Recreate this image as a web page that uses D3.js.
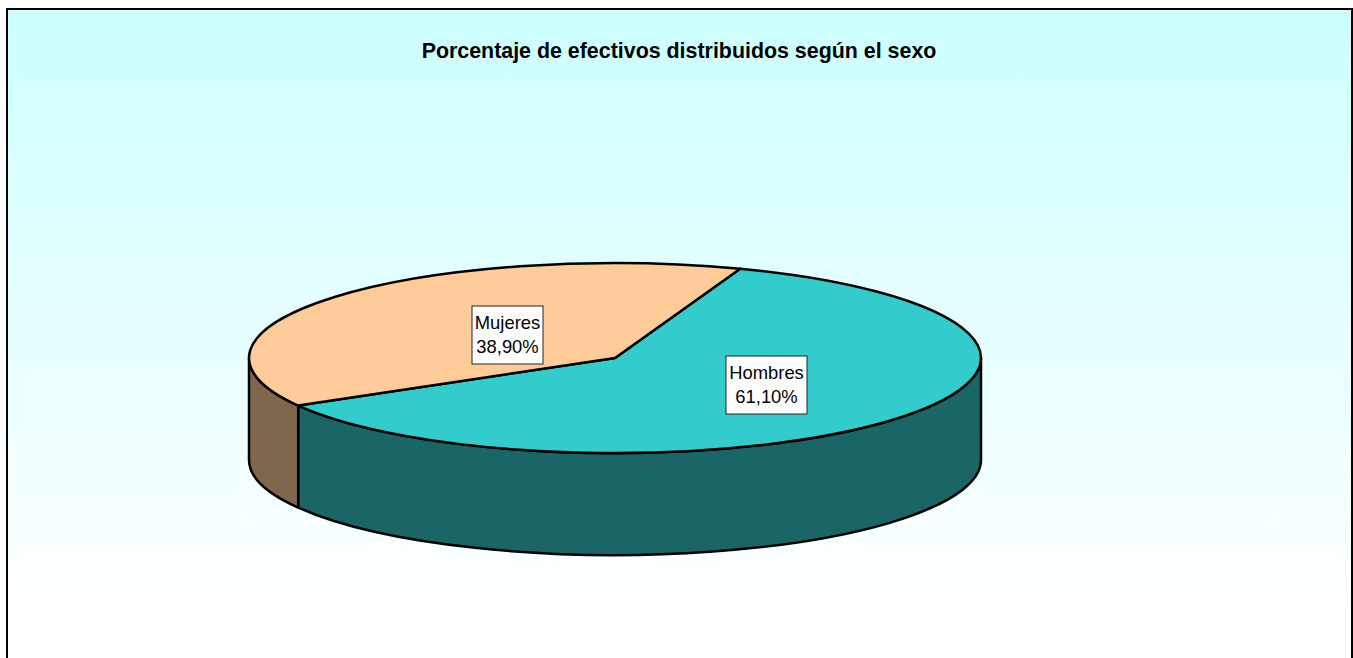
<!DOCTYPE html>
<html>
<head>
<meta charset="utf-8">
<style>
  html, body { margin: 0; padding: 0; background: #fff; overflow: hidden; }
  svg { display: block; }
  text { font-family: "Liberation Sans", Arial, sans-serif; fill: #000; }
</style>
<script src="https://cdn.jsdelivr.net/npm/d3@7"></script>
</head>
<body>
<svg id="chart" width="1353" height="658"></svg>
<script>
"use strict"
var titulo = "Porcentaje de efectivos distribuidos según el sexo";
var categorias = ["Hombres", "Mujeres"];
var valores = [61.1, 38.9];
var etiquetas = ["61,10%", "38,90%"];
var coloresTapa = ["#33cccc", "#ffcc99"];
var coloresLado = ["#1a6666", "#80664d"];

var svg = d3.select("svg#chart"),
    width = +svg.attr("width"),
    height = +svg.attr("height");

var cx = 615, cy = 358, rx = 366, ry = 95, depth = 102;
var giro = 20 * Math.PI / 180;
var lineaPie = 2.5;

var defs = svg.append("defs");
var grad = defs.append("linearGradient")
    .attr("id", "fondo")
    .attr("x1", 0).attr("y1", 0).attr("x2", 0).attr("y2", 1);
grad.append("stop").attr("offset", "0%").attr("stop-color", "#ccffff");
grad.append("stop").attr("offset", "93%").attr("stop-color", "#ffffff");

// marco, la parte de abajo queda fuera de la captura
svg.append("rect")
    .attr("x", 7).attr("y", 9)
    .attr("width", 1345).attr("height", 660)
    .attr("fill", "url(#fondo)")
    .attr("stroke", "#000")
    .attr("stroke-width", 2);

svg.append("text")
    .attr("x", 679).attr("y", 58)
    .attr("text-anchor", "middle")
    .attr("font-weight", "bold")
    .attr("font-size", 21.4)
    .text(titulo);

var pie = d3.pie().sort(null).startAngle(giro).endAngle(giro + 2 * Math.PI);
var arcos = pie(valores);

function px(a) { return cx + rx * Math.sin(a); }
function py(a) { return cy - ry * Math.cos(a); }

// pared de una porcion, solo la mitad de delante se ve
function pared(d) {
  var a0 = Math.max(d.startAngle, Math.PI / 2),
      a1 = Math.min(d.endAngle, 3 * Math.PI / 2);
  if (a1 <= a0) return null;
  return "M" + px(a0) + "," + py(a0) +
    "A" + rx + "," + ry + " 0 0 1 " + px(a1) + "," + py(a1) +
    "L" + px(a1) + "," + (py(a1) + depth) +
    "A" + rx + "," + ry + " 0 0 0 " + px(a0) + "," + (py(a0) + depth) + "Z";
}

svg.append("g")
    .attr("class", "lados")
  .selectAll("path")
    .data(arcos)
  .enter().append("path")
    .attr("d", pared)
    .attr("fill", function(d, i) { return coloresLado[i]; })
    .attr("stroke", "#000")
    .attr("stroke-width", lineaPie)
    .attr("stroke-linejoin", "round");

var arco = d3.arc().innerRadius(0).outerRadius(rx);

svg.append("g")
    .attr("class", "tapa")
    .attr("transform", "translate(" + cx + "," + cy + ") scale(1," + (ry / rx) + ")")
  .selectAll("path")
    .data(arcos)
  .enter().append("path")
    .attr("d", arco)
    .attr("fill", function(d, i) { return coloresTapa[i]; })
    .attr("stroke", "#000")
    .attr("stroke-width", lineaPie)
    .attr("stroke-linejoin", "round")
    .attr("vector-effect", "non-scaling-stroke");

// desplazamiento de cada etiqueta respecto al centro de la tarta
var offX = [151.5, -107.5], offY = [27, -23], anchos = [81, 71];

var etq = svg.append("g")
    .attr("class", "etiquetas")
  .selectAll("g")
    .data(arcos)
  .enter().append("g")
    .attr("transform", function(d, i) {
      return "translate(" + (cx + offX[i]) + "," + (cy + offY[i]) + ")";
    });

etq.append("rect")
    .attr("x", function(d, i) { return -anchos[i] / 2; })
    .attr("y", -29)
    .attr("width", function(d, i) { return anchos[i]; })
    .attr("height", 58)
    .attr("fill", "#fff")
    .attr("stroke", "#222")
    .attr("stroke-width", 1);

etq.append("text")
    .attr("text-anchor", "middle")
    .attr("font-size", 18.4)
    .attr("fill", "#111")
    .attr("y", -6)
    .text(function(d, i) { return categorias[i]; });

etq.append("text")
    .attr("text-anchor", "middle")
    .attr("font-size", 18.4)
    .attr("y", 18)
    .text(function(d, i) { return etiquetas[i]; });
</script>
</body>
</html>
